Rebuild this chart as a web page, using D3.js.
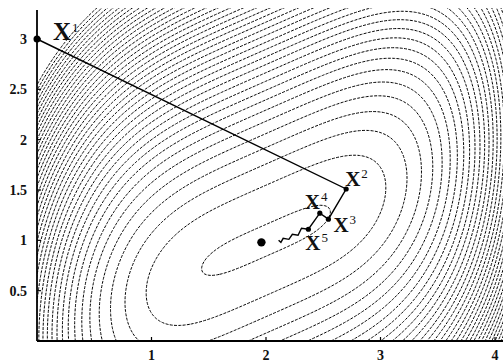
<!DOCTYPE html>
<html>
<head>
<meta charset="utf-8">
<script src="https://cdn.jsdelivr.net/npm/d3@7"></script>
<style>
  body { margin: 0; background: #fff; }
  text { font-family: "Liberation Serif", "DejaVu Serif", serif; fill: #111; }
</style>
</head>
<body>
<script>
// contour levels of f(x1,x2) = (x1-2)^4 + (x1-2*x2)^2
const levels = [0.1, 1.2, 2.3, 3.4, 4.5, 5.6, 6.7, 7.8, 8.9, 10.0,
                11.1, 12.2, 13.3, 14.4, 15.5, 16.6, 17.7, 18.8, 19.9, 21.0,
                22.1, 23.2, 24.3, 25.4, 26.5, 27.6, 28.7, 29.8, 30.9, 32.0,
                33.1, 34.2, 35.3, 36.4, 37.5, 38.6, 39.7, 40.8, 41.9];

// iterates
const iterX = [0.00, 2.70, 2.545, 2.47, 2.37, 2.31, 2.28, 2.23, 2.20, 2.15, 2.13, 2.11];
const iterY = [3.00, 1.51, 1.21, 1.27, 1.11, 1.12, 1.05, 1.06, 1.01, 1.02, 0.98, 1.00];
const labelled = [0, 1, 2, 3, 4];   // indices of x^1..x^5
const labelSup = ["1", "2", "3", "4", "5"];
const minPoint = [1.96, 0.98];

const xTicks = [1, 2, 3, 4];
const yTicks = [0.5, 1, 1.5, 2, 2.5, 3];
const yTickLabels = ["0.5", "1", "1.5", "2", "2.5", "3"];

const W = 503, H = 362;
const pLeft = 37, pRight = 503, pTop = 8, pBottom = 341;

const xs = d3.scaleLinear().domain([0, 4]).range([37, 495]);
const ys = d3.scaleLinear().domain([0, 3]).range([341, 39]);

const f = (a, b) => Math.pow(a - 2, 4) + Math.pow(a - 2 * b, 2);

const svg = d3.select("body").append("svg").attr("width", W).attr("height", H);
svg.append("rect").attr("width", W).attr("height", H).attr("fill", "#fff");

svg.append("clipPath").attr("id", "plotClip")
   .append("rect").attr("x", pLeft).attr("y", pTop).attr("width", pRight - pLeft).attr("height", pBottom - pTop);

// sample grid a bit bigger than the plot so the border edges get clipped
const xLo = xs.invert(pLeft) - 0.05, xHi = xs.invert(pRight) + 0.05;
const yLo = ys.invert(pBottom) - 0.05, yHi = ys.invert(pTop) + 0.05;
const nx = 260, ny = 220;
const dx = (xHi - xLo) / (nx - 1), dy = (yHi - yLo) / (ny - 1);
const values = new Array(nx * ny);
for (let j = 0; j < ny; j++) {
    for (let i = 0; i < nx; i++) {
        values[i + j * nx] = f(xLo + i * dx, yHi - j * dy);
    }
}

const contours = d3.contours().size([nx, ny]).thresholds(levels)(values);
const proj = d3.geoTransform({
    point: function (gx, gy) {
        this.stream.point(xs(xLo + (gx - 0.5) * dx), ys(yHi - (gy - 0.5) * dy));
    }
});
const path = d3.geoPath(proj);

svg.append("g").attr("clip-path", "url(#plotClip)")
   .selectAll("path").data(contours).enter().append("path")
   .attr("d", path)
   .attr("fill", "none")
   .attr("stroke", "#000")
   .attr("stroke-width", 1)
   .attr("stroke-dasharray", "3,1.3");

// axes
const axisG = svg.append("g");
axisG.append("line").attr("x1", pLeft).attr("x2", pLeft).attr("y1", 10).attr("y2", pBottom)
     .attr("stroke", "#000").attr("stroke-width", 1.8);
axisG.append("line").attr("x1", pLeft).attr("x2", pRight).attr("y1", pBottom).attr("y2", pBottom)
     .attr("stroke", "#000").attr("stroke-width", 1.8);

axisG.selectAll(".xt").data(xTicks).enter().append("line")
     .attr("x1", d => xs(d)).attr("x2", d => xs(d))
     .attr("y1", pBottom).attr("y2", pBottom - 4)
     .attr("stroke", "#000").attr("stroke-width", 1.2);
axisG.selectAll(".xl").data(xTicks).enter().append("text")
     .attr("x", d => xs(d)).attr("y", 360)
     .attr("text-anchor", "middle").attr("font-size", 14).attr("font-weight", "bold")
     .text(d => d);

axisG.selectAll(".yt").data(yTicks).enter().append("line")
     .attr("x1", pLeft).attr("x2", pLeft + 4)
     .attr("y1", d => ys(d)).attr("y2", d => ys(d))
     .attr("stroke", "#000").attr("stroke-width", 1.2);
axisG.selectAll(".yl").data(yTicks).enter().append("text")
     .attr("x", 27).attr("y", d => ys(d) + 5)
     .attr("text-anchor", "end").attr("font-size", 14).attr("font-weight", "bold")
     .text((d, i) => yTickLabels[i]);

// descent path
const pts = iterX.map((x, i) => [xs(x), ys(iterY[i])]);
svg.append("path").attr("d", d3.line()(pts))
   .attr("fill", "none").attr("stroke", "#000").attr("stroke-width", 1.4);

svg.selectAll(".it").data(labelled).enter().append("circle")
   .attr("cx", i => pts[i][0]).attr("cy", i => pts[i][1])
   .attr("r", i => i == 0 ? 3.5 : 2.6).attr("fill", "#000");

svg.append("circle").attr("cx", xs(minPoint[0])).attr("cy", ys(minPoint[1]))
   .attr("r", 4.2).attr("fill", "#000");

// labels x^k, offsets from their points
const labelOff = [[16, 1], [-1, -3], [5, 13], [-15, -4], [-3, 21]];
const labelSize = [25, 21, 21, 21, 21];
labelled.forEach((idx, k) => {
    const t = svg.append("text")
        .attr("x", pts[idx][0] + labelOff[k][0]).attr("y", pts[idx][1] + labelOff[k][1])
        .attr("font-size", labelSize[k]).attr("font-weight", "bold");
    t.append("tspan").text("X");
    t.append("tspan").attr("dy", -8).attr("dx", 1).attr("font-size", 13).attr("font-weight", "normal").text(labelSup[k]);
});
</script>
</body>
</html>
